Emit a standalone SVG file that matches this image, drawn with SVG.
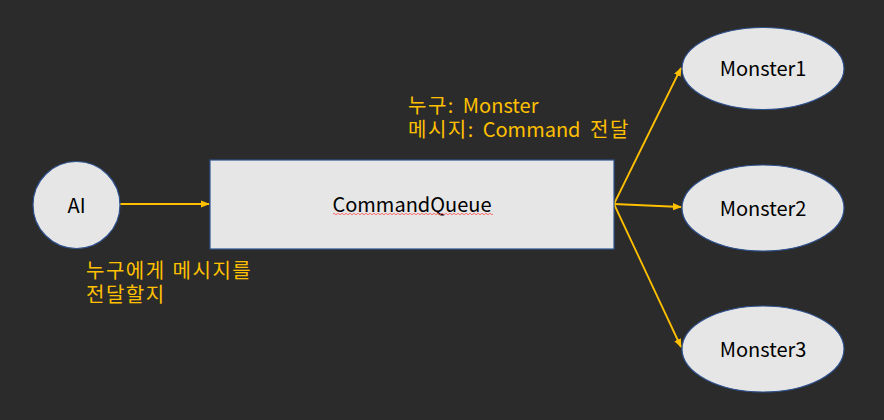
<svg xmlns="http://www.w3.org/2000/svg" width="884" height="420" viewBox="0 0 884 420">
<defs>
<style>
.node{fill:#e6e6e6;stroke:#2f528f;stroke-width:1.2}
.lbl{font-family:"Noto Sans CJK KR","Noto Sans",sans-serif;font-size:20px;fill:#000;text-anchor:middle;dominant-baseline:central}
.note{font-family:"Noto Sans CJK KR","Noto Sans",sans-serif;font-size:20px;fill:#ffc000;word-spacing:5px}
.ko{letter-spacing:1.5px}
.conn{stroke:#ffc000;stroke-width:1.8;fill:none;marker-end:url(#ah)}
</style>
<marker id="ah" viewBox="0 0 10 10" refX="9" refY="5" markerWidth="5" markerHeight="5" orient="auto" markerUnits="strokeWidth">
<path d="M0,1 L10,5 L0,9 Z" fill="#ffc000"/>
</marker>
</defs>
<rect x="0" y="0" width="884" height="420" fill="#2b2b2b"/>
<g id="connectors">
<line class="conn" x1="120" y1="204" x2="209" y2="204"/>
<line class="conn" x1="614" y1="204" x2="681" y2="68"/>
<line class="conn" x1="614" y1="204" x2="681" y2="207"/>
<line class="conn" x1="614" y1="204" x2="681" y2="347"/>
</g>
<g id="AI">
<circle class="node" cx="76.5" cy="205" r="43.5"/>
<text class="lbl" x="76.5" y="204">AI</text>
</g>
<g id="CommandQueue">
<rect class="node" x="210" y="160" width="404" height="89"/>
<text class="lbl" x="412" y="203">CommandQueue</text>
<path d="M333,214 q1,-1.5 2,0 t2,0 t2,0 t2,0 t2,0 t2,0 t2,0 t2,0 t2,0 t2,0 t2,0 t2,0 t2,0 t2,0 t2,0 t2,0 t2,0 t2,0 t2,0 t2,0 t2,0 t2,0 t2,0 t2,0 t2,0 t2,0 t2,0 t2,0 t2,0 t2,0 t2,0 t2,0 t2,0 t2,0 t2,0 t2,0 t2,0 t2,0 t2,0 t2,0 t2,0 t2,0 t2,0 t2,0 t2,0 t2,0 t2,0 t2,0 t2,0 t2,0 t2,0 t2,0 t2,0 t2,0 t2,0 t2,0 t2,0 t2,0 t2,0 t2,0 t2,0 t2,0 t2,0 t2,0 t2,0 t2,0 t2,0 t2,0 t2,0 t2,0 t2,0 t2,0 t2,0 t2,0 t2,0 t2,0 t2,0 t2,0 t2,0 t2,0" fill="none" stroke="#ff5050" stroke-width="0.8"/>
</g>
<g id="Monster1">
<ellipse class="node" cx="763" cy="68.5" rx="81" ry="41"/>
<text class="lbl" x="763" y="67">Monster1</text>
</g>
<g id="Monster2">
<ellipse class="node" cx="763" cy="208" rx="81" ry="43"/>
<text class="lbl" x="763" y="207">Monster2</text>
</g>
<g id="Monster3">
<ellipse class="node" cx="763" cy="349" rx="81" ry="43"/>
<text class="lbl" x="763" y="348">Monster3</text>
</g>
<g id="notes">
<text class="note"><tspan x="408" y="113"><tspan class="ko">누구</tspan>: Monster</tspan><tspan x="408" y="137"><tspan class="ko">메시지</tspan>: Command <tspan class="ko">전달</tspan></tspan></text>
<text class="note ko"><tspan x="86" y="278" style="word-spacing:1px">누구에게 메시지를</tspan><tspan x="86" y="302">전달할지</tspan></text>
</g>
</svg>
